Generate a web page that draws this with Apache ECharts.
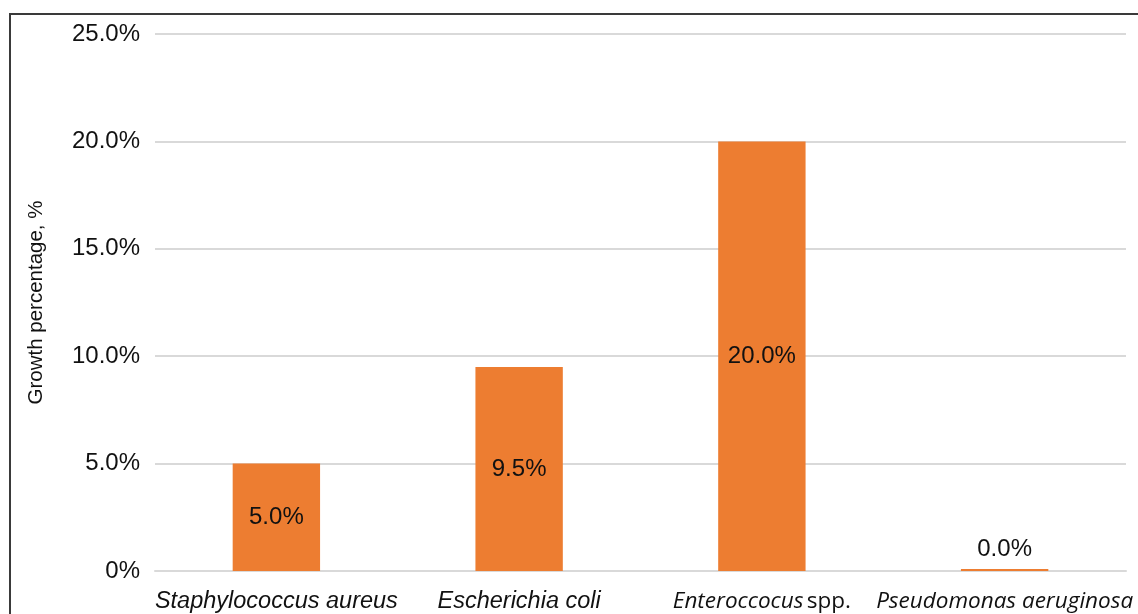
<!DOCTYPE html>
<html><head><meta charset="utf-8">
<script src="https://cdn.jsdelivr.net/npm/echarts@6/dist/echarts.min.js"></script>
<style>html,body{margin:0;padding:0;background:#fff}#c{width:1138px;height:614px}</style>
</head><body><div id="c"></div>
<script>
var categories = ['Staphylococcus aureus', 'Escherichia coli', 'Enteroccocus spp.', 'Pseudomonas aeruginosa'];
var growthValues = [5.0, 9.5, 20.0, 0.0];
var yTicks = [0, 5, 10, 15, 20, 25];
var yAxisName = 'Growth percentage, %';

var catLabels = {
  'Staphylococcus aureus': '{a|Staphylococcus aureus}',
  'Escherichia coli': '{a|Escherichia coli}',
  'Enteroccocus spp.': '{b|Enteroccocus} {c|spp.}',
  'Pseudomonas aeruginosa': '{b|Pseudomonas aeruginosa}'
};

var chart = echarts.init(document.getElementById('c'), null, {renderer: 'canvas'});
chart.setOption({
  animation: false,
  backgroundColor: '#fff',
  graphic: [{type: 'rect', shape: {x: 10, y: 14, width: 1200, height: 700}, style: {fill: 'none', stroke: '#3a3a3a', lineWidth: 2}, z: 100}],
  grid: {left: 155, right: 12, top: 34, bottom: 43},
  xAxis: {
    type: 'category', data: categories,
    axisLine: {lineStyle: {color: '#d9d9d9', width: 2}},
    axisTick: {show: false},
    axisLabel: {
      interval: 0, margin: 19, color: '#111',
      formatter: function (v) { return catLabels[v]; },
      rich: {
        a: {fontFamily: 'Liberation Sans', fontStyle: 'italic', fontSize: 23.5, color: '#111'},
        b: {fontFamily: 'Open Sans', fontStyle: 'italic', fontSize: 22.5, color: '#111'},
        c: {fontFamily: 'Open Sans', fontSize: 22.5, color: '#111'}
      }
    }
  },
  yAxis: {
    type: 'value', min: yTicks[0], max: yTicks[yTicks.length - 1], interval: 5,
    name: yAxisName, nameLocation: 'middle', nameGap: 108, nameRotate: 90,
    nameTextStyle: {fontFamily: 'Liberation Sans', fontSize: 20.5, color: '#111'},
    axisLine: {show: false}, axisTick: {show: false},
    axisLabel: {fontFamily: 'Liberation Sans', fontSize: 24, color: '#111', margin: 15,
      formatter: function (v) { return v === 0 ? '0%' : v.toFixed(1) + '%'; }},
    splitLine: {lineStyle: {color: '#d9d9d9', width: 2}}
  },
  series: [{
    type: 'bar', barWidth: '36%', barMinHeight: 2,
    itemStyle: {color: '#ED7D31'},
    data: growthValues.map(function (v) {
      return {value: v, label: {position: v > 1 ? 'inside' : 'top', distance: 8}};
    }),
    label: {show: true, fontFamily: 'Liberation Sans', fontSize: 24, color: '#111',
      formatter: function (p) { return p.value.toFixed(1) + '%'; }}
  }]
});
</script></body></html>
